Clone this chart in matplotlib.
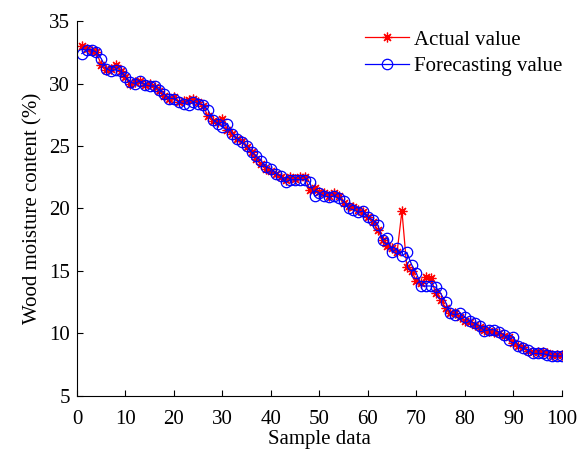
import matplotlib.pyplot as plt
import numpy as np

# sample index
samples = list(range(1, 101))

actual = [33.0, 32.8, 32.6, 32.5, 31.5, 31.1, 31.2, 31.5, 31.0, 30.5,
          30.0, 30.1, 30.2, 29.9, 30.0, 29.7, 29.4, 29.0, 28.8, 28.9,
          28.5, 28.6, 28.7, 28.8, 28.5, 28.2, 27.4, 27.0, 26.9, 27.2,
          26.3, 26.0, 25.6, 25.4, 24.9, 24.5, 24.0, 23.6, 23.2, 23.0,
          22.8, 22.5, 22.3, 22.5, 22.4, 22.5, 22.5, 21.5, 21.6, 21.3,
          21.2, 21.0, 21.2, 21.0, 20.4, 20.2, 20.1, 19.9, 19.7, 19.3,
          18.9, 18.3, 17.5, 17.0, 16.8, 16.5, 19.8, 15.3, 15.0, 14.2,
          14.0, 14.5, 14.4, 13.2, 12.7, 12.0, 11.6, 11.6, 11.3, 11.0,
          10.9, 10.7, 10.5, 10.3, 10.2, 10.1, 10.0, 9.8, 9.7, 9.2,
          9.0, 8.9, 8.6, 8.5, 8.5, 8.5, 8.4, 8.3, 8.3, 8.3]

forecast = [32.4, 32.7, 32.7, 32.5, 32.0, 31.2, 31.0, 31.1, 31.0, 30.5,
            30.1, 30.0, 30.2, 29.9, 29.8, 29.8, 29.5, 29.2, 28.8, 28.8,
            28.5, 28.4, 28.3, 28.5, 28.4, 28.3, 27.9, 27.1, 26.8, 26.5,
            26.8, 26.0, 25.6, 25.3, 25.0, 24.5, 24.2, 23.8, 23.3, 23.2,
            22.8, 22.6, 22.1, 22.3, 22.3, 22.3, 22.3, 22.1, 21.0, 21.2,
            21.0, 20.9, 21.0, 20.8, 20.6, 20.0, 19.9, 19.7, 19.8, 19.3,
            19.1, 18.7, 17.5, 17.6, 16.5, 16.8, 16.2, 16.5, 15.5, 14.8,
            13.8, 13.8, 13.8, 13.7, 13.2, 12.5, 11.6, 11.5, 11.6, 11.3,
            11.0, 10.8, 10.6, 10.2, 10.3, 10.3, 10.1, 9.9, 9.5, 9.7,
            9.0, 8.8, 8.7, 8.4, 8.4, 8.4, 8.3, 8.2, 8.2, 8.2]

plt.rcParams['font.family'] = ['Liberation Serif', 'DejaVu Serif']
plt.rcParams['font.size'] = 15

fig = plt.figure(figsize=(5.77, 4.51), dpi=100)
ax = fig.add_axes([0.1334, 0.122, 0.8406, 0.8314])

ax.plot(samples, actual, color='red', lw=0.9, marker=(8, 2, 0), ms=7,
        mew=0.9, label='Actual value')
ax.plot(samples, forecast, color='blue', lw=0.9, marker='o', ms=7.5,
        mfc='none', mew=0.9, label='Forecasting value')

ax.set_xlim(0, 100)
ax.set_ylim(5, 35)
ax.set_xticks(np.arange(0, 101, 10))
ax.set_yticks(np.arange(5, 36, 5))
ax.spines['top'].set_visible(False)
ax.spines['right'].set_visible(False)
ax.tick_params(direction='in', length=4, width=0.8)
ax.tick_params(axis='x', pad=10)
ax.tick_params(axis='y', pad=5)

ax.set_xlabel('Sample data', labelpad=1)
ax.set_ylabel('Wood moisture content (%)', labelpad=5)

ax.legend(loc='upper right', frameon=False, handlelength=2.15,
          borderaxespad=0, borderpad=0, labelspacing=0.33,
          handletextpad=0.2, bbox_to_anchor=(562 / 577, 1 - 30 / 451),
          bbox_transform=fig.transFigure)

plt.savefig('out.png', dpi=100)
